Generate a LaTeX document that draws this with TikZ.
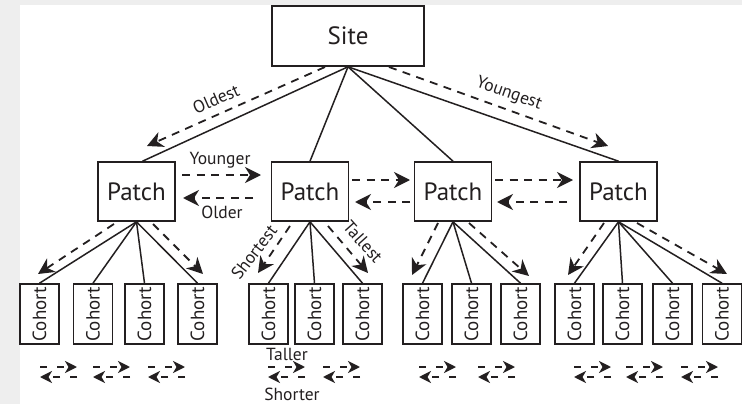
\documentclass[tikz,border=0pt]{standalone}
\usepackage{fontspec}
\setmainfont{PT Sans}
\usetikzlibrary{arrows.meta,calc}
\definecolor{ink}{HTML}{231F20}
\definecolor{pagegray}{HTML}{EEEEEE}
\tikzset{
  box/.style={draw=ink, line width=1.6pt, fill=white, inner sep=0pt, text=ink},
  sitebox/.style={box, minimum width=152pt, minimum height=60pt, font=\fontsize{25}{28}\selectfont},
  patchbox/.style={box, minimum width=77pt, minimum height=59pt, font=\fontsize{25}{28}\selectfont},
  cohortbox/.style={box, minimum width=39pt, minimum height=60pt},
  cohorttext/.style={rotate=90, font=\fontsize{19}{21}\selectfont, text=ink, inner sep=0pt},
  link/.style={draw=ink, line width=1.5pt},
  flow/.style={draw=ink, line width=1.8pt, dash pattern=on 8pt off 6.5pt,
    -{Stealth[length=16pt, width=16pt, inset=5pt]}},
  swapflow/.style={draw=ink, line width=2pt, dash pattern=on 7pt off 10pt,
    -{Stealth[length=12pt, width=12pt, inset=3.5pt]}},
  lbl/.style={font=\fontsize{17.5}{19}\selectfont, text=ink, inner sep=0pt},
}
% a pair of opposite small dashed arrows between neighbouring cohorts
\newcommand{\swappair}[2]{%
  \coordinate (#2a) at (#1,367);
  \coordinate (#2b) at ($(#2a)+(37,0)$);
  \coordinate (#2c) at ($(#2b)+(0,10)$);
  \coordinate (#2d) at ($(#2a)+(0,10)$);
  \draw[swapflow] (#2a) -- (#2b);
  \draw[swapflow] (#2c) -- (#2d);
}
\begin{document}
\begin{tikzpicture}[x=1pt,y=-1pt]
\useasboundingbox (0,0) rectangle (742,404);
\fill[pagegray] (0,0) rectangle (742,404);
\fill[white] (20,5) rectangle (742,404);

% site and patches
\node[sitebox] (site) at (348,36) {Site};
\node[patchbox] (p1) at (136.5,191.5) {Patch};
\node[patchbox] (p2) at (310,191.5) {Patch};
\node[patchbox] (p3) at (453,191.5) {Patch};
\node[patchbox] (p4) at (618.5,191.5) {Patch};

% cohorts
\foreach \i/\x in {1/39.5,2/93,3/144.5,4/197.5,5/268.5,6/314.5,7/362.5,
                   8/422.5,9/471.5,10/520.5,11/574.5,12/622.5,13/672.5,14/722}{
  \node[cohortbox] (c\i) at (\x,314) {};
  \node[cohorttext] (ct\i) at (c\i.center) {Cohort};
}

% tree links
\draw[link] (site.south) -- ($(p1.north)+(6,0)$);
\foreach \p in {p2,p3,p4}{ \draw[link] (site.south) -- (\p.north); }
\foreach \c in {c1,c2,c3,c4}{ \draw[link] (p1.south) -- (\c.north); }
\foreach \c in {c5,c6,c7}{ \draw[link] (p2.south) -- (\c.north); }
\foreach \c in {c8,c9,c10}{ \draw[link] (p3.south) -- (\c.north); }
\foreach \c in {c11,c12,c13,c14}{ \draw[link] (p4.south) -- (\c.north); }

% site to patch ordering
\coordinate (oA) at (325,67);  \coordinate (oB) at (147,146);
\coordinate (yA) at (389,67);  \coordinate (yB) at (608,146);
\draw[flow] (oA) -- (oB);
\draw[flow] (yA) -- (yB);
\node[lbl, rotate=23.7] (lold) at (216,99) {Oldest};
\node[lbl, rotate=-19.5] (lyoung) at (509,94) {Youngest};

% patch to patch
\coordinate (a1) at (182,175); \coordinate (a2) at (261,175);
\coordinate (a3) at (253,198); \coordinate (a4) at (183,198);
\draw[flow] (a1) -- (a2);
\draw[flow] (a3) -- (a4);
\node[lbl] (lyounger) at (220,160) {Younger};
\node[lbl] (lolder) at (222,212) {Older};
\coordinate (b1) at (352,180); \coordinate (b2) at (410,180);
\coordinate (b3) at (410,202); \coordinate (b4) at (355,202);
\draw[flow] (b1) -- (b2);
\draw[flow] (b3) -- (b4);
\coordinate (d1) at (495,180); \coordinate (d2) at (573,180);
\coordinate (d3) at (567,202); \coordinate (d4) at (497,202);
\draw[flow] (d1) -- (d2);
\draw[flow] (d3) -- (d4);

% patch to cohort ordering
\draw[flow] (114,224) -- (38,274);
\draw[flow] (153,224) -- (203,274);
\draw[flow] (290,226) -- (258,273);
\draw[flow] (328,226) -- (368,273);
\draw[flow] (438,223) -- (412,275);
\draw[flow] (469,223) -- (529,276);
\draw[flow] (604,223) -- (568,275);
\draw[flow] (637,223) -- (727,274);
\node[lbl, rotate=52] (lshort) at (254,252) {Shortest};
\node[lbl, rotate=-48] (ltall) at (363,242) {Tallest};

% cohort to cohort
\swappair{40}{s1}
\swappair{93}{s2}
\swappair{148}{s3}
\swappair{268}{s4}
\swappair{323}{s5}
\swappair{419}{s6}
\swappair{478}{s7}
\swappair{574}{s8}
\swappair{626}{s9}
\swappair{681}{s10}
\node[lbl] (ltaller) at (287,354) {Taller};
\node[lbl] (lshorter) at (292,394) {Shorter};
\end{tikzpicture}
\end{document}
